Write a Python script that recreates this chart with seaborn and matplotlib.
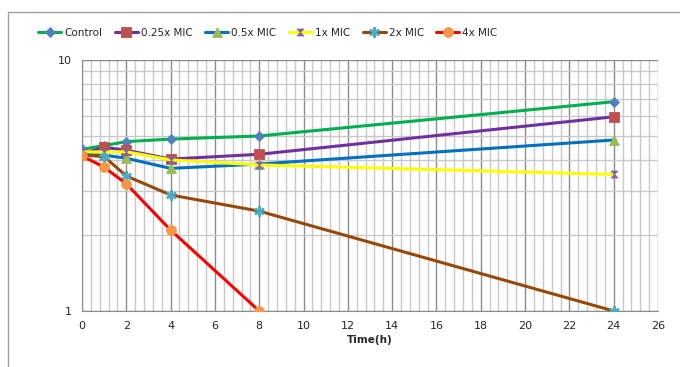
import numpy as np
import pandas as pd
import seaborn as sns
import matplotlib.pyplot as plt
from matplotlib.path import Path
from matplotlib.patches import Rectangle
from matplotlib.ticker import FixedLocator, NullFormatter, FixedFormatter

sns.set_style("white")
plt.rcParams['font.family'] = ['DejaVu Sans']

series_names = ["Control", "0.25x MIC", "0.5x MIC", "1x MIC", "2x MIC", "4x MIC"]
time_full = [0, 1, 2, 4, 8, 24]
time_4x = [0, 1, 2, 4, 8]
control = [4.41, 4.56, 4.73, 4.84, 4.98, 6.82]
mic025 = [4.23, 4.49, 4.37, 4.03, 4.21, 5.94]
mic05 = [4.20, 4.18, 4.06, 3.70, 3.85, 4.80]
mic1 = [4.31, 4.30, 4.31, 4.00, 3.82, 3.50]
mic2 = [4.19, 4.12, 3.45, 2.90, 2.50, 1.00]
mic4 = [4.15, 3.74, 3.21, 2.10, 1.00]

x_ticks = list(range(0, 27, 2))
y_ticks = [1, 10]

line_colors = ["#00B050", "#7030A0", "#0070C0", "#FFFF00", "#984806", "#FF0000"]
marker_colors = ["#4F81BD", "#C0504D", "#9BBB59", "#8064A2", "#4BACC6", "#F79646"]

hourglass = Path([(-1, 1), (1, 1), (-1, -1), (1, -1), (-1, 1)],
                 [Path.MOVETO, Path.LINETO, Path.LINETO, Path.LINETO, Path.CLOSEPOLY])
markers = ["D", "s", "^", hourglass, (6, 2, 0), "o"]
msizes = [5, 7, 6.5, 5, 7.5, 7]

data = [control, mic025, mic05, mic1, mic2, mic4]
times = [time_full] * 5 + [time_4x]

fig = plt.figure(figsize=(6.8, 3.67), dpi=100)
ax = fig.add_axes([82/680, 1-311/367, (658-82)/680, (311-60)/367])

for name, t, v, lc, mc, mk, ms in zip(series_names, times, data, line_colors, marker_colors, markers, msizes):
    df = pd.DataFrame({"t": t, "v": v})
    sns.lineplot(data=df, x="t", y="v", ax=ax, color=lc, linewidth=2.2,
                 marker=mk, markersize=ms, markerfacecolor=mc, markeredgecolor=mc,
                 markeredgewidth=1.6 if mk == (6, 2, 0) else 0.6, label=name, zorder=3)

ax.set_yscale("log")
ax.set_ylim(1, 10)
ax.set_xlim(0, 26)

ax.xaxis.set_major_locator(FixedLocator(x_ticks))
ax.xaxis.set_minor_locator(FixedLocator(np.arange(0, 26.01, 0.4)))
ax.yaxis.set_major_locator(FixedLocator(y_ticks))
ax.yaxis.set_major_formatter(FixedFormatter([str(y) for y in y_ticks]))
ax.yaxis.set_minor_locator(FixedLocator([2, 3, 4, 5, 6, 7, 8, 9]))
ax.yaxis.set_minor_formatter(NullFormatter())

ax.grid(which="major", color="#8C8C8C", linewidth=1.0)
ax.grid(which="minor", color="#C8C8C8", linewidth=1.0)
ax.set_axisbelow(True)

for s in ["top", "right"]:
    ax.spines[s].set_visible(False)
ax.spines["left"].set_color("#8C8C8C")
ax.spines["bottom"].set_color("#8C8C8C")

ax.tick_params(axis="both", which="major", length=4, color="#8C8C8C", labelsize=8, pad=3, direction="out")
ax.tick_params(axis="both", which="minor", length=0)

ax.set_xlabel("Time(h)", fontsize=7.5, fontweight="bold", labelpad=3)
ax.set_ylabel("")

ax.legend(loc="center", bbox_to_anchor=(268/680, 1-33/367), bbox_transform=fig.transFigure,
          ncol=6, frameon=False, fontsize=7.5, handlelength=2.2, columnspacing=1.2,
          handletextpad=0.3, borderpad=0.2)

fig.patches.append(Rectangle((8/680, -0.05), 1.2, 1 - 12/367 + 0.05, transform=fig.transFigure,
                             fill=False, edgecolor="#A0A0A0", linewidth=1.0))

fig.savefig("out.png", dpi=100)
